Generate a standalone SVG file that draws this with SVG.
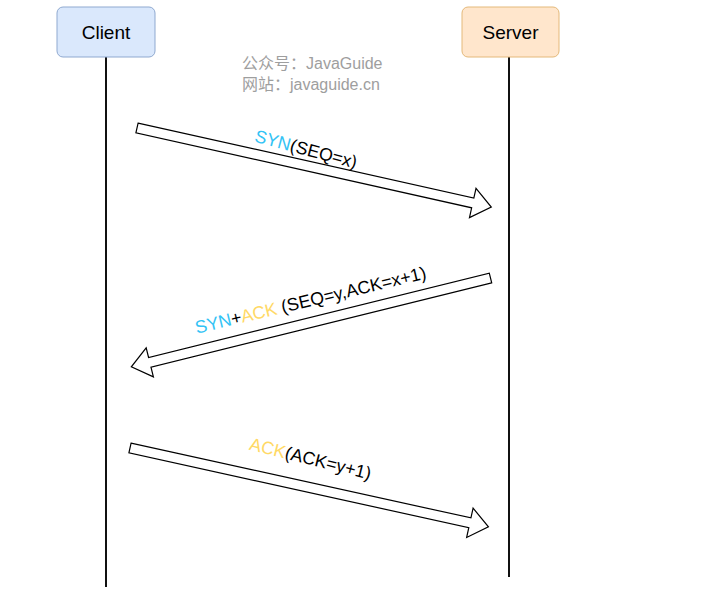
<svg xmlns="http://www.w3.org/2000/svg" width="722" height="601" viewBox="0 0 722 601">
<style>
.lbl{font-family:"Liberation Sans",Arial,sans-serif;font-size:17.8px;fill:#000}
.box{font-family:"Liberation Sans",Arial,sans-serif;font-size:19px;fill:#000;text-anchor:middle}
.wm{font-family:"Liberation Sans","Noto Sans CJK SC",sans-serif;font-size:16px;fill:#9e9e9e}
.life{stroke:#111;stroke-width:2;fill:none}
.arr{fill:#fff;stroke:#000;stroke-width:1.2;stroke-linejoin:miter}
.syn{fill:#33C3F5}
.ack{fill:#FFD966}
</style>
<rect width="722" height="601" fill="#fff"/>
<g id="connectors">
<line class="life" x1="106" y1="57" x2="106" y2="587"/>
<line class="life" x1="509" y1="57" x2="509" y2="577"/>
<path id="arrow1" class="arr" transform="translate(137,128) rotate(12.58)" d="M0,-5 L344,-5 L344,-15 L363,0 L344,15 L344,5 L0,5 Z"/>
<path id="arrow2" class="arr" transform="translate(490.5,278) rotate(166.1)" d="M0,-5 L351,-5 L351,-15 L370,0 L351,15 L351,5 L0,5 Z"/>
<path id="arrow3" class="arr" transform="translate(130,448) rotate(12.41)" d="M0,-5 L348,-5 L348,-15 L367,0 L348,15 L348,5 L0,5 Z"/>
<text class="lbl" text-anchor="middle" transform="translate(304.5,155) rotate(15)"><tspan class="syn">SYN</tspan>(SEQ=x)</text>
<text class="lbl" text-anchor="middle" transform="translate(312,306) rotate(-13.5)"><tspan class="syn">SYN</tspan>+<tspan class="ack">ACK</tspan> (SEQ=y,ACK=x+1)</text>
<text class="lbl" text-anchor="middle" transform="translate(309,464.5) rotate(14)"><tspan class="ack">ACK</tspan>(ACK=y+1)</text>
</g>
<g id="client">
<rect x="57" y="7" width="98" height="50" rx="6" fill="#dae8fc" stroke="#8fa9d0"/>
<text class="box" x="106" y="38.5">Client</text>
</g>
<g id="server">
<rect x="462" y="7" width="97" height="50" rx="6" fill="#ffe6cc" stroke="#e4b97a"/>
<text class="box" x="510.5" y="38.5">Server</text>
</g>
<g id="watermark">
<text class="wm" x="242" y="69">公众号：JavaGuide</text>
<text class="wm" x="242" y="90">网站：javaguide.cn</text>
</g>
</svg>
